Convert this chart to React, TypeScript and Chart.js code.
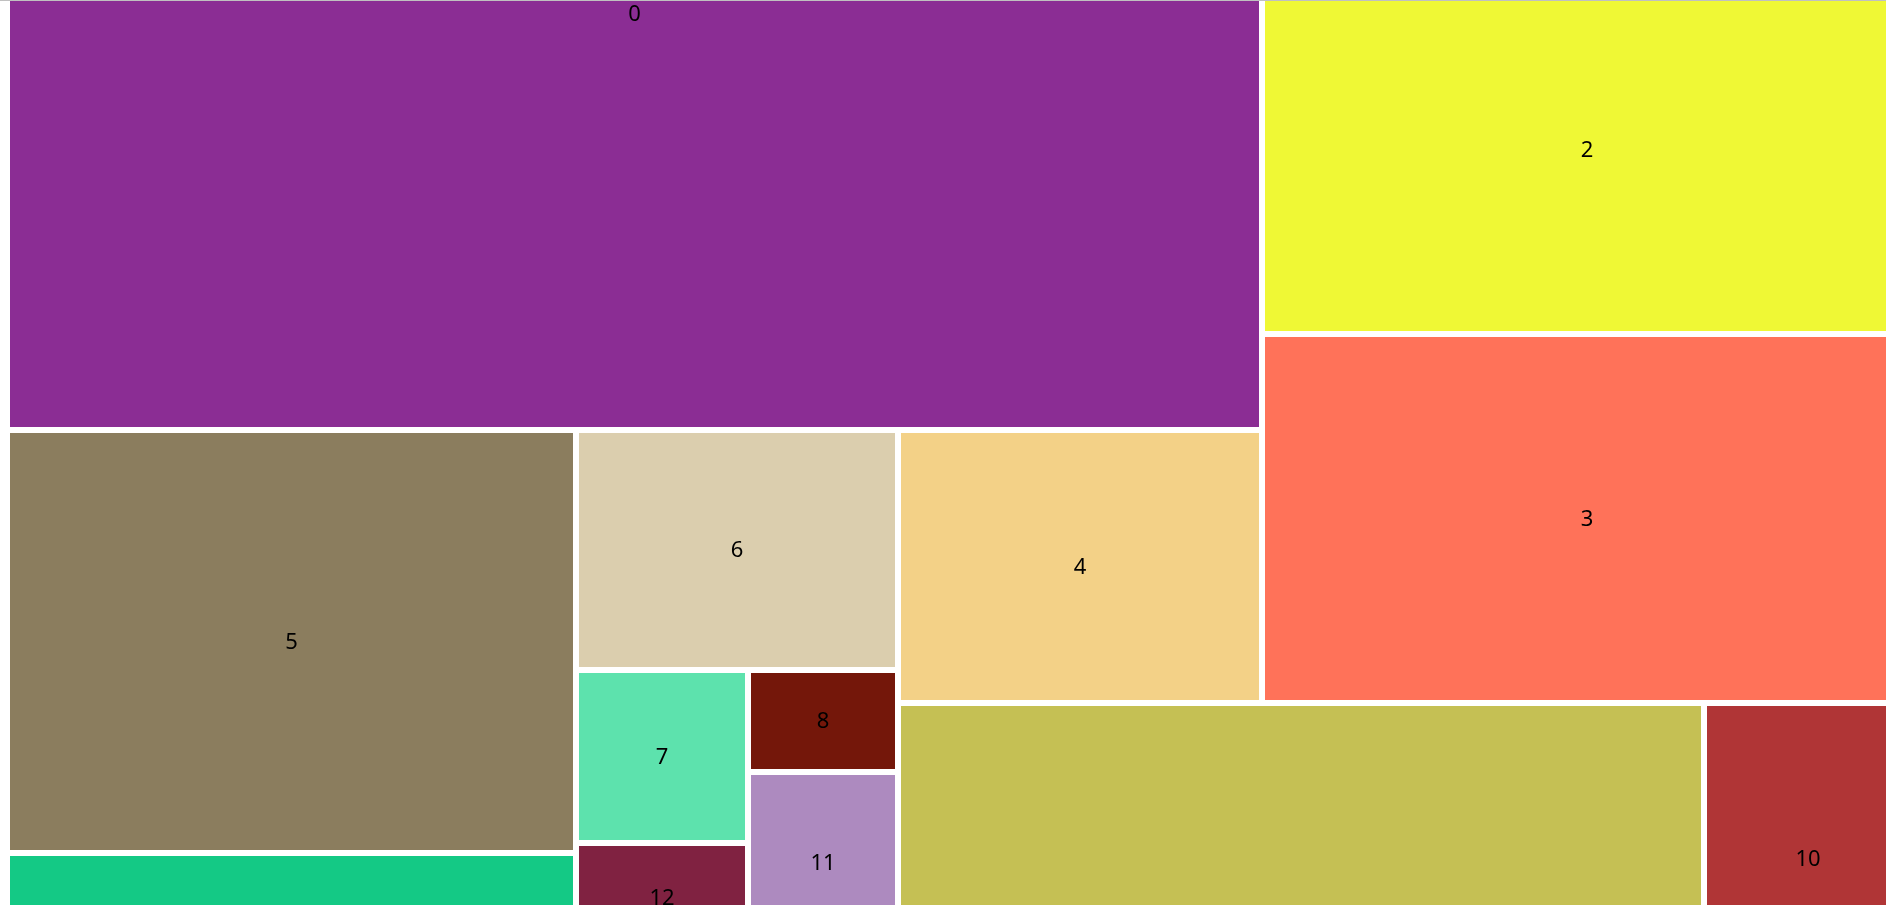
import React, { useEffect, useRef } from 'react';
import { Chart, DatasetController, Element, registerables } from 'chart.js';

// ---- data -------------------------------------------------------------
const cellLabels = ['0', '1', '2', '3', '4', '5', '6', '7', '8', '9', '10', '11', '12', '13', '14', '15'];
const cellValues = [1044.2, 239.3, 239.3, 239.3, 99.2, 240.7, 77.3, 29.8, 15.3, 487.2, 64.8, 27.2, 18.9, 258.3, 60.9, 114.0];
const cellColors = [
  '#8B2D94', '#5B8FD0', '#EFF835', '#FF7259', '#F3D187', '#8B7D5E', '#DBCEAE', '#5DE2AD',
  '#74170A', '#C5C054', '#B03536', '#AD8ABF', '#802241', '#14C985', '#6A9B3C', '#D98A3D',
];

// grouping of the cells (indices). The root is a pinwheel whose arms are
// top, right, bottom, left and centre; nested arrays are split along their longer side.
type TreeNode = number | TreeNode[] | { pinwheel: TreeNode[] };
const cellTree: TreeNode = {
  pinwheel: [0, [1, 2, 3], [9, [10, 14]], [[5, 13], [6, [[7, 12], [8, 11]], 15]], 4],
};

// ---- layout config ------------------------------------------------------
const frame = { x0: 7, y0: -402, x1: 1912, y1: 1307 };
const view = { xMin: 0, xMax: 1886, yMin: 0, yMax: 905 };
const SPACING = 3;
const LABEL_FONT = '22px "Noto Sans"';
const LABEL_DY = 1;

type R = { x0: number; y0: number; x1: number; y1: number };

function nodeSum(n: TreeNode): number {
  if (typeof n === 'number') return cellValues[n];
  if (Array.isArray(n)) return n.reduce((s: number, c) => s + nodeSum(c), 0);
  return n.pinwheel.reduce((s: number, c) => s + nodeSum(c), 0);
}

function solvePinwheel(A: number[], W: number, H: number) {
  const [AT, AR, AB, AL] = A;
  const ev = (a: number) => {
    const d = AT / a;
    const b = AR / (W - a);
    const c = AL / (H - d);
    return { a, b, c, d, f: (W - c) * (H - b) - AB };
  };
  const lo = (AT / H) * 1.0001;
  const hi = W - (AR / H) * 1.0001;
  const steps = 4000;
  let prev = ev(lo);
  for (let i = 1; i <= steps; i++) {
    const cur = ev(lo + ((hi - lo) * i) / steps);
    if (prev.f > 0 && cur.f <= 0 && cur.c < cur.a && cur.d < cur.b) {
      let l = prev.a, h = cur.a;
      for (let k = 0; k < 60; k++) {
        const m = (l + h) / 2;
        if (ev(m).f > 0) l = m; else h = m;
      }
      return ev((l + h) / 2);
    }
    prev = cur;
  }
  return ev((lo + hi) / 2);
}

function layoutNode(node: TreeNode, r: R, out: R[]) {
  if (typeof node === 'number') {
    out[node] = r;
    return;
  }
  const W = r.x1 - r.x0;
  const H = r.y1 - r.y0;
  if (Array.isArray(node)) {
    const total = nodeSum(node);
    let acc = 0;
    for (const child of node) {
      const s = nodeSum(child);
      const t0 = acc / total;
      const t1 = (acc + s) / total;
      acc += s;
      const cr = W >= H
        ? { x0: r.x0 + W * t0, x1: r.x0 + W * t1, y0: r.y0, y1: r.y1 }
        : { x0: r.x0, x1: r.x1, y0: r.y0 + H * t0, y1: r.y0 + H * t1 };
      layoutNode(child, cr, out);
    }
    return;
  }
  const parts = node.pinwheel;
  const total = nodeSum(node);
  const areas = parts.map((p) => (nodeSum(p) / total) * W * H);
  const { a, b, c, d } = solvePinwheel(areas, W, H);
  const rects: R[] = [
    { x0: r.x0, y0: r.y0, x1: r.x0 + a, y1: r.y0 + d },
    { x0: r.x0 + a, y0: r.y0, x1: r.x1, y1: r.y0 + b },
    { x0: r.x0 + c, y0: r.y0 + b, x1: r.x1, y1: r.y1 },
    { x0: r.x0, y0: r.y0 + d, x1: r.x0 + c, y1: r.y1 },
    { x0: r.x0 + c, y0: r.y0 + d, x1: r.x0 + a, y1: r.y0 + b },
  ];
  parts.forEach((p, i) => layoutNode(p, rects[i], out));
}

// ---- chart.js treemap controller / element ---------------------------------
class TreemapCell extends Element {
  static id = 'treemapCell';
  static defaults = {};
  draw(ctx: CanvasRenderingContext2D) {
    const me: any = this;
    if (!(me.width > 0) || !(me.height > 0)) return;
    ctx.save();
    ctx.fillStyle = me.color;
    ctx.fillRect(me.x, me.y, me.width, me.height);
    ctx.fillStyle = me.labelColor;
    ctx.font = me.font;
    ctx.textAlign = 'center';
    ctx.textBaseline = 'middle';
    ctx.fillText(me.label, me.x + me.width / 2, me.y + me.height / 2 + LABEL_DY);
    ctx.restore();
  }
  inRange(mx: number, my: number) {
    const me: any = this;
    return mx >= me.x && mx <= me.x + me.width && my >= me.y && my <= me.y + me.height;
  }
  inXRange(mx: number) { const me: any = this; return mx >= me.x && mx <= me.x + me.width; }
  inYRange(my: number) { const me: any = this; return my >= me.y && my <= me.y + me.height; }
  getCenterPoint() { const me: any = this; return { x: me.x + me.width / 2, y: me.y + me.height / 2 }; }
  tooltipPosition() { return this.getCenterPoint(); }
}

class TreemapController extends DatasetController {
  static id = 'treemap';
  static defaults = { dataElementType: 'treemapCell' };

  getMinMax() {
    return { min: 0, max: 1 };
  }

  update(mode: any) {
    const meta: any = (this as any)._cachedMeta;
    this.updateElements(meta.data, 0, meta.data.length, mode);
  }

  updateElements(elements: any[], start: number, count: number) {
    const meta: any = (this as any)._cachedMeta;
    const xScale = meta.xScale;
    const yScale = meta.yScale;
    const ds: any = this.getDataset();
    const sp = ds.spacing || 0;
    if (!xScale || !yScale) return;
    for (let i = start; i < start + count; i++) {
      const d = ds.data[i];
      const ax = Math.round(xScale.getPixelForValue(d.x0));
      const bx = Math.round(xScale.getPixelForValue(d.x1));
      const ay = Math.round(yScale.getPixelForValue(d.y0));
      const by = Math.round(yScale.getPixelForValue(d.y1));
      const left = Math.min(ax, bx);
      const right = Math.max(ax, bx);
      const top = Math.min(ay, by);
      const bottom = Math.max(ay, by);
      Object.assign(elements[i], {
        x: left + sp,
        y: top + sp,
        width: right - left - 2 * sp,
        height: bottom - top - 2 * sp,
        color: d.color,
        label: d.label,
        font: ds.labelFont,
        labelColor: ds.labelColor,
      });
    }
  }
}

Chart.register(...registerables, TreemapController as any, TreemapCell as any);

export default function App() {
  const ref = useRef<HTMLCanvasElement>(null);

  useEffect(() => {
    const rects: R[] = [];
    layoutNode(cellTree, { ...frame }, rects);
    const cells = cellLabels.map((label, i) => ({
      label,
      value: cellValues[i],
      color: cellColors[i],
      x0: rects[i].x0,
      y0: rects[i].y0,
      x1: rects[i].x1,
      y1: rects[i].y1,
    }));

    const chart = new Chart(ref.current as HTMLCanvasElement, {
      type: 'treemap' as any,
      data: {
        datasets: [
          {
            data: cells,
            parsing: false,
            spacing: SPACING,
            labelFont: LABEL_FONT,
            labelColor: '#000000',
          } as any,
        ],
      },
      options: {
        responsive: false,
        animation: false,
        events: [],
        layout: { padding: 0 },
        plugins: { legend: { display: false }, tooltip: { enabled: false } },
        scales: {
          x: { type: 'linear', min: view.xMin, max: view.xMax, display: false, bounds: 'data' } as any,
          y: { type: 'linear', min: view.yMin, max: view.yMax, reverse: true, display: false, bounds: 'data' } as any,
        },
      } as any,
    });
    return () => chart.destroy();
  }, []);

  return (
    <>
      <canvas
        ref={ref}
        width={1886}
        height={905}
        style={{ position: 'fixed', top: 0, left: 0, width: 1886, height: 905, display: 'block' }}
      />
      <div style={{ position: 'fixed', top: 0, left: 0, right: 0, height: 1, background: '#c0c0c0' }} />
    </>
  );
}
